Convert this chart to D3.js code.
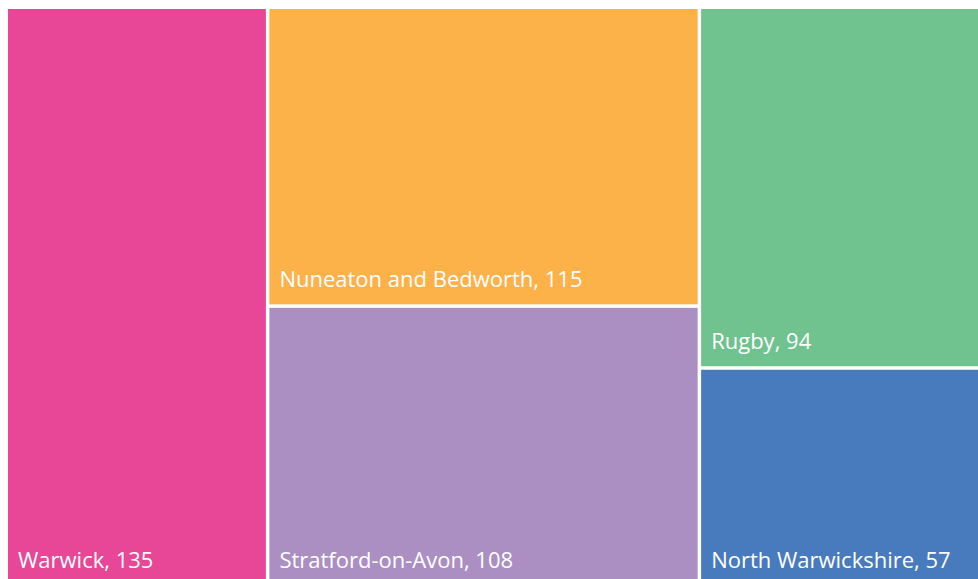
<!DOCTYPE html>
<html>
<head>
<meta charset="utf-8">
<script src="https://cdn.jsdelivr.net/npm/d3@7"></script>
<style>
  html, body { margin: 0; padding: 0; background: #fff; overflow: hidden; }
</style>
</head>
<body>
<svg id="chart"></svg>
<script>
// districts, values and the column each one sits in (as the reference lays them out)
const districts = ["Warwick", "Nuneaton and Bedworth", "Stratford-on-Avon", "Rugby", "North Warwickshire"]
const values = [135, 115, 108, 94, 57]
const columns = [0, 1, 1, 2, 2]
const colors = ["#E84797", "#FCB249", "#AB8FC2", "#70C38E", "#487BBD"]

const width = 978
const height = 579
const font_family = "'Open Sans', 'Noto Sans', sans-serif"

const svg = d3.select("svg#chart")
  .attr("width", width)
  .attr("height", height)

// build a two level tree: columns, then districts
const tree = {
  name: "root",
  children: d3.range(3).map(c => ({
    name: "col" + c,
    children: districts
      .map((name, i) => ({ name, value: values[i], color: colors[i], col: columns[i] }))
      .filter(d => d.col === c)
  }))
}

const root = d3.hierarchy(tree)
  .sum(d => d.value || 0)

d3.treemap()
  .tile(d3.treemapSliceDice)
  .size([982, 576])
  .paddingInner(3.5)
  .round(false)(root)

const plot = svg.append("g")
  .attr("transform", "translate(8,9)")

const cells = plot.selectAll(".cell")
  .data(root.leaves())
  .enter()
  .append("g")
  .attr("class", "cell")

cells.append("rect")
  .attr("x", d => d.x0)
  .attr("y", d => d.y0)
  .attr("width", d => d.x1 - d.x0)
  .attr("height", d => d.y1 - d.y0)
  .style("fill", d => d.data.color)

// label in the bottom-left corner of each cell
cells.append("text")
  .attr("x", d => d.x0 + 10)
  .attr("y", d => d.y1 - 17)
  .text(d => d.data.name + ", " + d.data.value)
  .style("font-family", font_family)
  .style("font-size", "22px")
  .style("fill", "#fff")
</script>
</body>
</html>
